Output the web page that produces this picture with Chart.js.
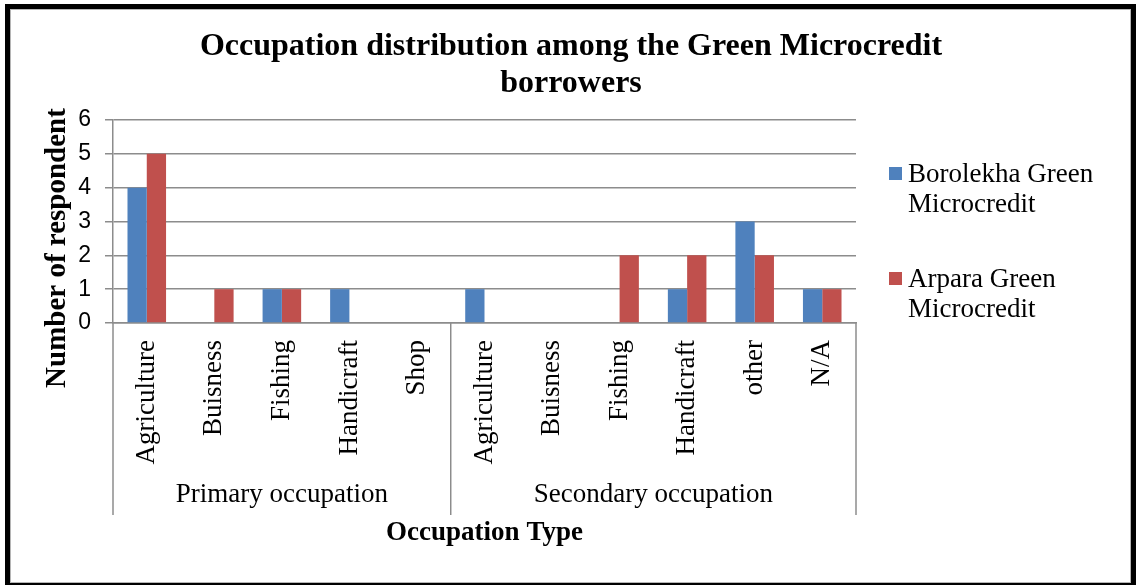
<!DOCTYPE html>
<html>
<head>
<meta charset="utf-8">
<title>Occupation distribution</title>
<script src="https://cdn.jsdelivr.net/npm/chart.js@4"></script>
<style>
  body { margin: 0; background: #fff; }
  #wrap { position: relative; width: 1136px; height: 585px; }
  #chart { position: absolute; left: 0; top: 0; }
  #frame {
    position: absolute; left: 5px; top: 4px; width: 1131px; height: 581px;
    box-sizing: border-box; border: 5px solid #000; border-bottom-width: 2px;
    box-shadow: inset 1px 1px 0 #b5b5b5, inset -1px -1px 0 #b5b5b5;
    pointer-events: none;
  }
</style>
</head>
<body>
<div id="wrap">
  <canvas id="chart" width="1136" height="585"></canvas>
  <div id="frame"></div>
</div>
<script>
// Occupation categories, in axis order
const categories = ['Agriculture', 'Buisness', 'Fishing', 'Handicraft', 'Shop',
  'Agriculture', 'Buisness', 'Fishing', 'Handicraft', 'other', 'N/A'];

// Outer level of the category axis and how many categories each covers
const groupNames = ['Primary occupation', 'Secondary occupation'];
const groupSizes = [5, 6];

// Number of respondents per category
const borolekha = [4, 0, 1, 1, 0, 1, 0, 0, 1, 3, 1];
const arpara = [5, 1, 1, 0, 0, 0, 0, 2, 2, 2, 1];

const seriesNames = [['Borolekha Green', 'Microcredit'], ['Arpara Green', 'Microcredit']];
const titleLines = ['Occupation distribution among the Green Microcredit', 'borrowers'];

const SERIF = '"Liberation Serif", "Times New Roman", serif';
const AXIS_GRAY = '#8c8c8c';

// Draws title, axis titles, grouped category labels and the legend
const decorations = {
  id: 'decorations',
  afterDraw(chart) {
    const ctx = chart.ctx;
    const x = chart.scales.x;
    const area = chart.chartArea;
    ctx.save();

    // group separators and group labels under the category labels
    ctx.strokeStyle = AXIS_GRAY;
    ctx.lineWidth = 1.5;
    let start = 0;
    const edges = [x.getPixelForValue(-0.5)];
    groupSizes.forEach(n => {
      edges.push(x.getPixelForValue(start + n - 0.5));
      start += n;
    });
    edges.forEach(px => {
      ctx.beginPath();
      ctx.moveTo(px, area.bottom);
      ctx.lineTo(px, x.bottom);
      ctx.stroke();
    });
    ctx.fillStyle = '#000';
    ctx.font = '27px ' + SERIF;
    ctx.textAlign = 'center';
    ctx.textBaseline = 'middle';
    groupNames.forEach((name, i) => {
      ctx.fillText(name, (edges[i] + edges[i + 1]) / 2, 495);
    });

    // axis titles
    ctx.font = 'bold 27px ' + SERIF;
    ctx.fillText('Occupation Type', (area.left + area.right) / 2, 533);
    ctx.save();
    ctx.translate(58, 248);
    ctx.rotate(-Math.PI / 2);
    ctx.font = 'bold 29px ' + SERIF;
    ctx.fillText('Number of respondent', 0, 0);
    ctx.restore();

    // chart title
    ctx.font = 'bold 32px ' + SERIF;
    titleLines.forEach((line, i) => ctx.fillText(line, 571, 47 + i * 37));

    // legend
    ctx.font = '27px ' + SERIF;
    ctx.textAlign = 'left';
    ctx.textBaseline = 'alphabetic';
    chart.data.datasets.forEach((ds, i) => {
      const top = 167 + i * 105;
      ctx.fillStyle = ds.backgroundColor;
      ctx.fillRect(889, top, 13, 13);
      ctx.fillStyle = '#000';
      seriesNames[i].forEach((line, j) => ctx.fillText(line, 908, top + 15 + j * 30));
    });

    ctx.restore();
  }
};

new Chart(document.getElementById('chart'), {
  type: 'bar',
  data: {
    labels: categories,
    datasets: [
      { label: seriesNames[0].join(' '), data: borolekha, backgroundColor: '#4F81BD' },
      { label: seriesNames[1].join(' '), data: arpara, backgroundColor: '#C0504D' }
    ]
  },
  options: {
    responsive: false,
    animation: false,
    categoryPercentage: 0.571,
    barPercentage: 1,
    layout: { padding: { left: 53, top: 120, right: 280, bottom: 70 } },
    plugins: {
      legend: { display: false },
      title: { display: false },
      tooltip: { enabled: false }
    },
    scales: {
      x: {
        grid: { display: false, drawTicks: false },
        border: { color: AXIS_GRAY, width: 1.5 },
        ticks: {
          autoSkip: false, minRotation: 90, maxRotation: 90, padding: 17,
          color: '#000', font: { family: SERIF, size: 27 }
        },
        afterFit(scale) { scale.height = 192; }
      },
      y: {
        min: 0, max: 6,
        grid: { color: AXIS_GRAY, lineWidth: 1.5, tickLength: 8 },
        border: { color: AXIS_GRAY, width: 1.5 },
        ticks: {
          stepSize: 1, padding: 14, color: '#000',
          font: { family: '"Liberation Sans", Arial, sans-serif', size: 23 }
        },
        afterFit(scale) { scale.width = 60; }
      }
    }
  },
  plugins: [decorations]
});
</script>
</body>
</html>
